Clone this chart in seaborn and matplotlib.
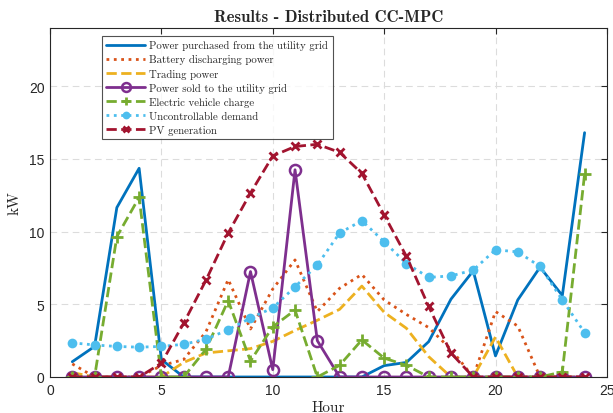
import numpy as np
import pandas as pd
import matplotlib
matplotlib.use("Agg")
import matplotlib.pyplot as plt
import seaborn as sns

hours = list(range(1, 25))

purchased = [1.05, 2.1, 11.65, 14.35, 1.2, 0, 0, 0, 0, 0, 0, 0, 0, 0, 0.78, 1.0, 2.43, 5.35, 7.3, 1.45, 5.3, 7.55, 5.6, 16.8]
battery = [0.9, 0, 0, 0, 0.78, 1.2, 3.1, 6.7, 3.3, 6.05, 8.05, 4.5, 6.1, 7.05, 5.3, 4.3, 3.4, 1.9, 0, 4.5, 3.5, 0, 0, 0]
trading = [0.3, 0, 0, 0, 0, 1.0, 1.65, 1.8, 1.95, 2.45, 3.2, 3.9, 4.65, 6.25, 4.45, 3.35, 1.4, 0, 0, 2.75, 0, 0, 0, 0]
sold = [0, 0, 0, 0, 0, 0, 0, 0, 7.25, 0.5, 14.25, 2.5, 0, 0, 0, 0, 0, 0, 0, 0, 0, 0, 0, 0]
ev_charge = [0, 0, 9.65, 12.35, 0, 0, 1.9, 5.25, 1.1, 3.45, 4.6, 0, 0.8, 2.55, 1.3, 0.8, 0, 0, 0, 0, 0, 0, 0.35, 13.95]
demand = [2.35, 2.2, 2.1, 2.05, 2.1, 2.25, 2.6, 3.25, 4.05, 4.75, 6.2, 7.7, 9.9, 10.75, 9.3, 7.8, 6.85, 6.95, 7.35, 8.75, 8.6, 7.6, 5.3, 3.05]
pv = [0, 0, 0, 0, 0.95, 3.7, 6.65, 9.9, 12.65, 15.2, 15.85, 16.0, 15.45, 14.0, 11.15, 8.3, 4.85, 1.65, 0, 0, 0, 0, 0, 0]

labels = [
    "Power purchased from the utility grid",
    "Battery discharging power",
    "Trading power",
    "Power sold to the utility grid",
    "Electric vehicle charge",
    "Uncontrollable demand",
    "PV generation",
]

sns.set_theme(style="white")
plt.rcParams["font.family"] = ["Liberation Sans", "DejaVu Sans"]

fig, ax = plt.subplots(figsize=(6.13, 4.14), dpi=100)
fig.subplots_adjust(left=0.0816, right=0.990, bottom=0.087, top=0.930)

styles = [
    (purchased, "#0072BD", "-", None, {}),
    (battery, "#D95319", ":", None, {}),
    (trading, "#EDB120", "--", None, {}),
    (sold, "#7E2F8E", "-", "o", dict(markersize=8, markerfacecolor="none", markeredgewidth=1.8)),
    (ev_charge, "#77AC30", "--", "+", dict(markersize=8, markeredgewidth=2)),
    (demand, "#4DBEEE", ":", "o", dict(markersize=7, markeredgewidth=0)),
    (pv, "#A2142F", "--", "x", dict(markersize=6, markeredgewidth=2)),
]

for (vals, col, ls, mk, extra), lab in zip(styles, labels):
    kw = dict(extra)
    if mk is not None:
        kw["markeredgecolor"] = col
    sns.lineplot(x=hours, y=vals, ax=ax, color=col, linestyle=ls, marker=mk,
                 linewidth=2, label=lab, **kw)

ax.set_xlim(0, 25)
ax.set_ylim(0, 24)
ax.set_xticks([0, 5, 10, 15, 20, 25])
ax.set_yticks([0, 5, 10, 15, 20])
ax.grid(True, linestyle=(0, (6, 4)), color="#dcdcdc", linewidth=0.8)
ax.tick_params(direction="in", top=True, right=True, length=4, width=0.8,
               labelsize=10, colors="#262626", pad=4)
for sp in ax.spines.values():
    sp.set_color("#262626")
    sp.set_linewidth(0.8)

ax.set_title("Results - Distributed CC-MPC", fontfamily="cmb10", fontsize=12, pad=5)
ax.set_xlabel("Hour", fontfamily="cmr10", fontsize=11, labelpad=3)
ax.set_ylabel("kW", fontfamily="cmr10", fontsize=11, labelpad=5)

leg = ax.legend(loc="upper left", bbox_to_anchor=(0.093, 0.977), prop={"family": "cmr10", "size": 7.8},
                frameon=True, fancybox=False, edgecolor="#262626", handlelength=3.6,
                handletextpad=0.4, borderpad=0.4, labelspacing=0.38, borderaxespad=0,
                markerscale=0.8)
leg.get_frame().set_linewidth(0.8)

fig.savefig("out.png", dpi=100)
